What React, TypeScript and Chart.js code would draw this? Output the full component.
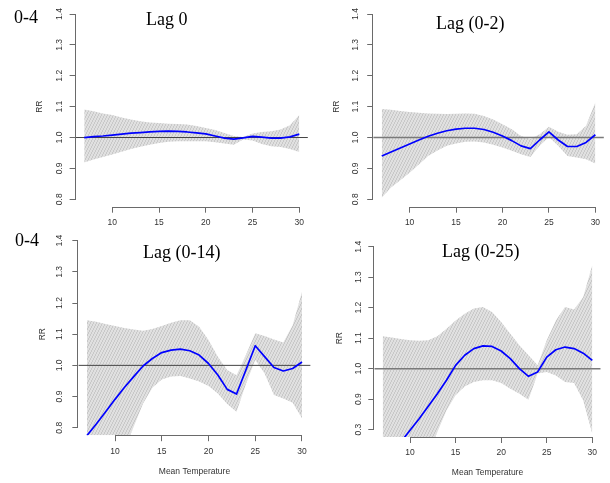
import React, { useEffect, useRef } from "react";
import { Chart, registerables } from "chart.js";

Chart.register(...registerables);

// ---------- data ----------
const temps = [7, 8, 9, 10, 11, 12, 13, 14, 15, 16, 17, 18, 19, 20, 21, 22, 23, 24, 25, 26, 27, 28, 29, 30];
const xTicks = [10, 15, 20, 25, 30];
const yTicks = [0.8, 0.9, 1.0, 1.1, 1.2, 1.3, 1.4];
const yTickLabels = ["0.8", "0.9", "1.0", "1.1", "1.2", "1.3", "1.4"];
const yTickLabelsLag25 = ["0.3", "0.9", "1.0", "1.1", "1.2", "1.3", "1.4"];
const xLimits = [6.08, 30.92];
const yLimits = [0.776, 1.424];
const refRR = 1.0;

const panelTitles = ["Lag 0", "Lag (0-2)", "Lag (0-14)", "Lag (0-25)"];
const rowLabel = "0-4";
const yAxisTitle = "RR";
const xAxisTitle = "Mean Temperature";

const lag0Fit = [1.000, 1.003, 1.005, 1.008, 1.011, 1.014, 1.016, 1.018, 1.020, 1.021, 1.020, 1.018, 1.015, 1.012, 1.005, 0.998, 0.995, 0.999, 1.004, 1.001, 0.998, 0.998, 1.002, 1.011];
const lag0Upper = [1.091, 1.085, 1.078, 1.073, 1.065, 1.058, 1.053, 1.049, 1.047, 1.045, 1.044, 1.042, 1.037, 1.031, 1.024, 1.015, 1.005, 1.002, 1.013, 1.018, 1.020, 1.026, 1.040, 1.073];
const lag0Lower = [0.919, 0.929, 0.937, 0.945, 0.954, 0.963, 0.970, 0.977, 0.982, 0.986, 0.988, 0.988, 0.988, 0.988, 0.985, 0.981, 0.977, 0.994, 0.990, 0.979, 0.972, 0.969, 0.963, 0.953];

const lag02Fit = [0.940, 0.953, 0.966, 0.979, 0.992, 1.004, 1.014, 1.022, 1.027, 1.030, 1.030, 1.026, 1.017, 1.005, 0.990, 0.973, 0.964, 0.992, 1.018, 0.992, 0.971, 0.971, 0.984, 1.009];
const lag02Upper = [1.092, 1.090, 1.086, 1.083, 1.080, 1.078, 1.077, 1.076, 1.077, 1.078, 1.077, 1.070, 1.058, 1.043, 1.027, 1.005, 0.995, 1.011, 1.035, 1.019, 1.009, 1.011, 1.038, 1.114];
const lag02Lower = [0.805, 0.838, 0.862, 0.886, 0.913, 0.940, 0.958, 0.973, 0.981, 0.986, 0.987, 0.984, 0.977, 0.968, 0.957, 0.946, 0.937, 0.973, 1.002, 0.973, 0.940, 0.935, 0.930, 0.916];

const lag014Fit = [0.775, 0.812, 0.851, 0.891, 0.929, 0.964, 0.998, 1.022, 1.041, 1.049, 1.052, 1.047, 1.033, 1.006, 0.969, 0.923, 0.908, 0.985, 1.063, 1.028, 0.993, 0.982, 0.990, 1.011];
const lag014Upper = [1.145, 1.140, 1.133, 1.126, 1.120, 1.115, 1.111, 1.117, 1.126, 1.137, 1.145, 1.145, 1.124, 1.081, 1.028, 0.985, 0.968, 1.033, 1.103, 1.094, 1.083, 1.073, 1.129, 1.236];
const lag014Lower = [0.45, 0.52, 0.58, 0.65, 0.73, 0.803, 0.878, 0.928, 0.955, 0.964, 0.966, 0.958, 0.948, 0.934, 0.910, 0.876, 0.851, 0.940, 1.017, 0.974, 0.905, 0.894, 0.880, 0.830];

const lag025Fit = [0.68, 0.72, 0.76, 0.798, 0.836, 0.877, 0.918, 0.962, 1.011, 1.044, 1.066, 1.075, 1.073, 1.058, 1.033, 1.000, 0.975, 0.989, 1.038, 1.062, 1.071, 1.066, 1.051, 1.027];
const lag025Upper = [1.106, 1.102, 1.097, 1.093, 1.092, 1.093, 1.106, 1.131, 1.158, 1.180, 1.197, 1.202, 1.186, 1.153, 1.115, 1.077, 1.044, 1.011, 1.093, 1.158, 1.202, 1.194, 1.235, 1.340];
const lag025Lower = [0.33, 0.40, 0.48, 0.56, 0.64, 0.72, 0.792, 0.863, 0.913, 0.942, 0.956, 0.962, 0.962, 0.953, 0.934, 0.918, 0.898, 0.984, 0.989, 0.978, 0.956, 0.953, 0.896, 0.787];

// ---------- layout / style ----------
const W = 610;
const H = 483;
const sansFont = "'Liberation Sans', Arial, sans-serif";
const serifFont = "'Liberation Serif', 'Times New Roman', serif";
const axisColor = "#6a6a6a";
const textColor = "#333";

type Panel = {
  title: string;
  fit: number[];
  upper: number[];
  lower: number[];
  yLabels: string[];
  area: { l: number; t: number; r: number; b: number };
  yW: number;
  xH: number;
  yPad: number;
  xPad: number;
  showX: boolean;
  titlePos: [number, number];
  rowPos: [number, number] | null;
  refColor: string;
  refW: number;
};

const panels: Panel[] = [
  {
    title: panelTitles[0], fit: lag0Fit, upper: lag0Upper, lower: lag0Lower, yLabels: yTickLabels,
    area: { l: 75.6, t: 6.6, r: 307.9, b: 206.7 }, yW: 40.7, xH: 30, yPad: 4.2, xPad: 4.7, showX: false,
    titlePos: [166.8, 25.3], rowPos: [14, 23.3], refColor: "#444", refW: 1,
  },
  {
    title: panelTitles[1], fit: lag02Fit, upper: lag02Upper, lower: lag02Lower, yLabels: yTickLabels,
    area: { l: 373.2, t: 6.6, r: 603.9, b: 206.7 }, yW: 41.2, xH: 30, yPad: 5.9, xPad: 4.4, showX: false,
    titlePos: [470.3, 29.3], rowPos: null, refColor: "#7a7a7a", refW: 1.6,
  },
  {
    title: panelTitles[2], fit: lag014Fit, upper: lag014Upper, lower: lag014Lower, yLabels: yTickLabels,
    area: { l: 78.35, t: 233.2, r: 310.6, b: 435.2 }, yW: 40.75, xH: 41.9, yPad: 6.45, xPad: 4.9, showX: true,
    titlePos: [181.7, 257.7], rowPos: [15, 245.7], refColor: "#444", refW: 1,
  },
  {
    title: panelTitles[3], fit: lag025Fit, upper: lag025Upper, lower: lag025Lower, yLabels: yTickLabelsLag25,
    area: { l: 374.3, t: 239.4, r: 600.7, b: 437 }, yW: 39.7, xH: 40.6, yPad: 4.1, xPad: 4.1, showX: true,
    titlePos: [480.8, 256.7], rowPos: null, refColor: "#7a7a7a", refW: 1.6,
  },
];

function makeHatch(ctx: CanvasRenderingContext2D): CanvasPattern | string {
  const c = document.createElement("canvas");
  c.width = 3;
  c.height = 6;
  const g = c.getContext("2d");
  if (!g) return "#d9d9d9";
  g.fillStyle = "#e0e0e0";
  g.fillRect(0, 0, 3, 6);
  g.fillStyle = "#c8c8c8";
  // steep "/" hatch: one pixel per row, moving right every two rows
  for (let r = 0; r < 6; r++) {
    const col = 2 - Math.floor(r / 2);
    g.fillRect(col, r, 1, 1);
  }
  return ctx.createPattern(c, "repeat") || "#d9d9d9";
}

const rAxesPlugin = {
  id: "rAxes",
  afterDraw(chart: any) {
    const { ctx, chartArea, scales } = chart;
    const x = scales.x;
    const y = scales.y;
    ctx.save();
    ctx.strokeStyle = axisColor;
    ctx.lineWidth = 1;
    ctx.beginPath();
    const yb = Math.round(chartArea.bottom) + 0.5;
    ctx.moveTo(x.getPixelForValue(xTicks[0]), yb);
    ctx.lineTo(x.getPixelForValue(xTicks[xTicks.length - 1]), yb);
    const xl = Math.round(chartArea.left) - 0.5;
    ctx.moveTo(xl, y.getPixelForValue(yTicks[0]));
    ctx.lineTo(xl, y.getPixelForValue(yTicks[yTicks.length - 1]));
    ctx.stroke();
    ctx.restore();
  },
};

function textPlugin(p: Panel) {
  return {
    id: "panelText",
    afterDraw(chart: any) {
      const { ctx } = chart;
      ctx.save();
      ctx.fillStyle = "#000";
      ctx.font = `18px ${serifFont}`;
      ctx.textBaseline = "alphabetic";
      ctx.textAlign = "center";
      ctx.fillText(p.title, p.titlePos[0], p.titlePos[1]);
      if (p.rowPos) {
        ctx.textAlign = "left";
        ctx.fillText(rowLabel, p.rowPos[0], p.rowPos[1]);
      }
      ctx.restore();
    },
  };
}

function buildChart(canvas: HTMLCanvasElement, p: Panel) {
  const ctx = canvas.getContext("2d") as CanvasRenderingContext2D;
  const hatch = makeHatch(ctx);
  const tickFont = { family: sansFont, size: 8.5 };
  const pts = (arr: number[]) => temps.map((t, i) => ({ x: t, y: arr[i] }));
  return new Chart(ctx, {
    type: "line",
    data: {
      datasets: [
        {
          label: "fit",
          data: pts(p.fit),
          borderColor: "#0000ff",
          borderWidth: 1.7,
          pointRadius: 0,
          fill: false,
          tension: 0,
          borderJoinStyle: "round",
        },
        {
          label: "ref",
          data: [
            { x: xLimits[0], y: refRR },
            { x: xLimits[1], y: refRR },
          ],
          borderColor: p.refColor,
          borderWidth: p.refW,
          pointRadius: 0,
          fill: false,
        },
        {
          label: "upper",
          data: pts(p.upper),
          borderColor: "rgba(0,0,0,0)",
          borderWidth: 0,
          pointRadius: 0,
          tension: 0,
          fill: "+1",
          backgroundColor: hatch as any,
        },
        {
          label: "lower",
          data: pts(p.lower),
          borderColor: "rgba(0,0,0,0)",
          borderWidth: 0,
          pointRadius: 0,
          tension: 0,
          fill: false,
        },
      ],
    },
    options: {
      responsive: false,
      animation: false,
      devicePixelRatio: 1,
      events: [],
      layout: {
        padding: {
          left: p.area.l - p.yW,
          top: p.area.t,
          right: W - p.area.r,
          bottom: H - p.area.b - p.xH,
        },
      },
      plugins: {
        legend: { display: false },
        tooltip: { enabled: false },
        title: { display: false },
      },
      scales: {
        x: {
          type: "linear",
          min: xLimits[0],
          max: xLimits[1],
          afterBuildTicks: (s: any) => {
            s.ticks = xTicks.map((v) => ({ value: v }));
          },
          afterFit: (s: any) => {
            s.height = p.xH;
            s.paddingLeft = 0;
            s.paddingRight = 0;
          },
          grid: { display: true, drawOnChartArea: false, drawTicks: true, tickLength: 6, color: axisColor, lineWidth: 1 },
          border: { display: false },
          ticks: {
            autoSkip: false,
            minRotation: 0,
            maxRotation: 0,
            padding: p.xPad,
            font: tickFont,
            color: textColor,
            callback: (v: any) => String(v),
          },
          title: { display: p.showX, text: xAxisTitle, font: tickFont, color: textColor, padding: 0 },
        },
        y: {
          type: "linear",
          min: yLimits[0],
          max: yLimits[1],
          afterBuildTicks: (s: any) => {
            s.ticks = yTicks.map((v) => ({ value: v }));
          },
          afterFit: (s: any) => {
            s.width = p.yW;
            s.paddingTop = 0;
            s.paddingBottom = 0;
          },
          grid: { display: true, drawOnChartArea: false, drawTicks: true, tickLength: 6, color: axisColor, lineWidth: 1 },
          border: { display: false },
          ticks: {
            autoSkip: false,
            minRotation: 90,
            maxRotation: 90,
            crossAlign: "center",
            padding: p.yPad,
            font: tickFont,
            color: textColor,
            callback: (_v: any, i: number) => p.yLabels[i],
          },
          title: { display: true, text: yAxisTitle, font: tickFont, color: textColor, padding: 0 },
        },
      },
    } as any,
    plugins: [rAxesPlugin, textPlugin(p)],
  });
}

export default function App() {
  const refs = [useRef<HTMLCanvasElement>(null), useRef<HTMLCanvasElement>(null), useRef<HTMLCanvasElement>(null), useRef<HTMLCanvasElement>(null)];

  useEffect(() => {
    const charts: Chart[] = [];
    panels.forEach((p, i) => {
      const c = refs[i].current;
      if (c) charts.push(buildChart(c, p));
    });
    return () => charts.forEach((ch) => ch.destroy());
  }, []);

  return (
    <div style={{ position: "absolute", left: 0, top: 0, width: W, height: H, background: "#fff", overflow: "hidden" }}>
      {panels.map((p, i) => (
        <canvas
          key={p.title}
          ref={refs[i]}
          width={W}
          height={H}
          style={{ position: "absolute", left: 0, top: 0, width: W, height: H }}
        />
      ))}
    </div>
  );
}
